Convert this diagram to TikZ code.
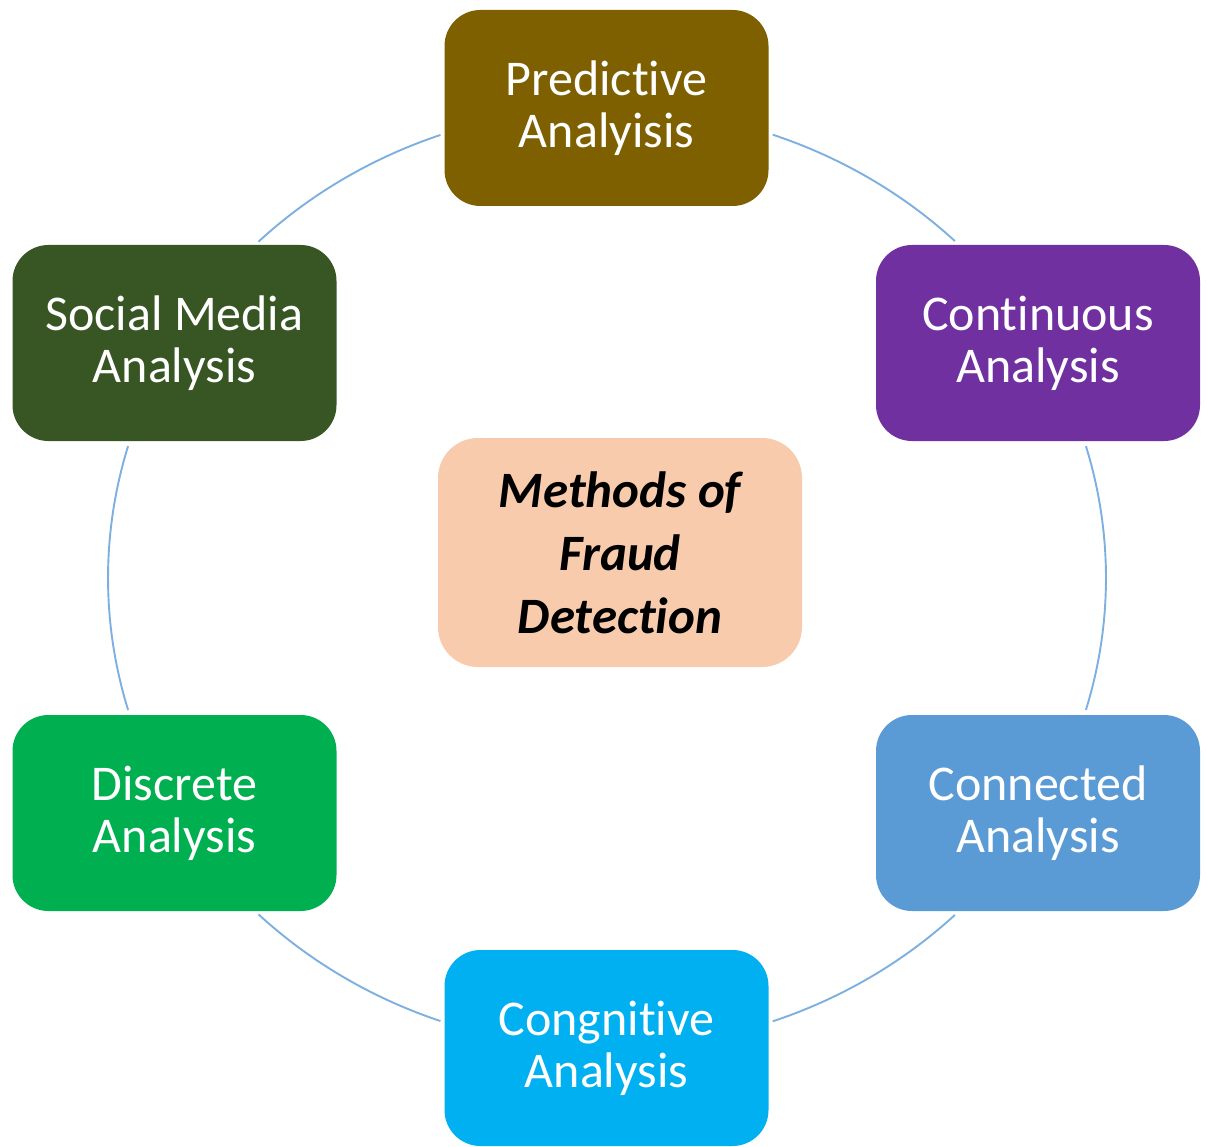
\documentclass[tikz,border=0pt]{standalone}
\usepackage{fontspec}
\setmainfont{Carlito}[Ligatures=NoCommon]
\begin{document}
\begin{tikzpicture}[x=1pt,y=1pt,
  method/.style={rectangle, rounded corners=36pt, inner sep=0pt,
    minimum width=324pt, minimum height=196pt, align=center,
    text=white, font=\fontsize{50}{52}\selectfont},
  hub/.style={rectangle, rounded corners=40pt, inner sep=0pt,
    minimum width=364pt, minimum height=229pt, align=center,
    fill=hubfill, text=black,
    font=\fontsize{51}{63}\selectfont\bfseries\itshape},
  ring/.style={draw=ringblue, line width=1.9pt}]
\definecolor{gold}{HTML}{7F6000}
\definecolor{violet}{HTML}{7030A0}
\definecolor{steel}{HTML}{5B9BD5}
\definecolor{sky}{HTML}{00B0F0}
\definecolor{leaf}{HTML}{00B050}
\definecolor{forest}{HTML}{375623}
\definecolor{hubfill}{HTML}{F8CBAD}
\definecolor{ringblue}{HTML}{7DB0E0}
\useasboundingbox (0,0) rectangle (1206,-1147);

% centre of the ring on which the six methods sit
\coordinate (ringc) at (607,-578);

% ring segments between neighbouring boxes (elliptical arcs)
\foreach \a/\b in {70.6/45.8, 16.3/-16.3, -45.8/-70.6,
                   -109.5/-134.3, 196.3/163.7, 134.3/109.5}
  \draw[ring] ([shift={(\a:499 and 470)}]ringc)
    arc[start angle=\a, end angle=\b, x radius=499, y radius=470];

% the six methods
\node[method, fill=gold]   (pred) at (606.5,-108) {Predictive\\Analyisis};
\node[method, fill=violet] (cont) at (1038,-343)  {Continuous\\Analysis};
\node[method, fill=steel]  (conn) at (1038,-813)  {Connected\\Analysis};
\node[method, fill=sky]    (cong) at (606.5,-1048) {Congnitive\\Analysis};
\node[method, fill=leaf]   (disc) at (174.5,-813) {Discrete\\Analysis};
\node[method, fill=forest] (soc)  at (174.5,-343) {Social Media\\Analysis};

% central title
\node[hub] (hub) at (620,-552.5) {Methods of\\Fraud\\Detection};
\end{tikzpicture}
\end{document}
